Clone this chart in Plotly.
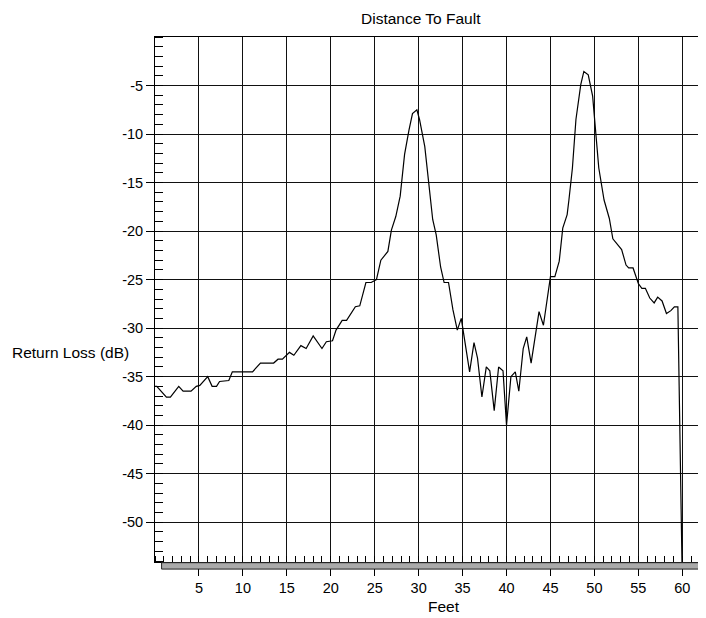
import plotly.graph_objects as go

# Distance (feet) and return loss (dB)
feet = [0.0, 0.2, 1.3, 1.75, 2.7, 3.2, 4.1, 4.7, 5.1, 6.0, 6.5, 7.0, 7.35, 8.4, 8.8,
        11.1, 12.0, 13.5, 14.0, 14.5, 15.3, 15.8, 16.6, 17.2, 18.0, 19.0, 19.5, 20.2,
        20.6, 21.3, 21.8, 22.2, 22.8, 23.3, 24.0, 24.6, 25.2, 25.7, 26.5, 26.9, 27.4,
        27.9, 28.4, 28.9, 29.3, 29.8, 30.1, 30.7, 31.1, 31.6, 32.0, 32.5, 32.9, 33.4,
        33.9, 34.4, 34.85, 35.8, 36.3, 36.7, 37.2, 37.7, 38.1, 38.6, 39.1, 39.6, 40.0,
        40.5, 41.0, 41.4, 41.9, 42.3, 42.8, 43.7, 44.2, 45.0, 45.5, 46.0, 46.4, 46.9,
        47.1, 47.5, 47.9, 48.45, 48.8, 49.3, 49.8, 50.2, 50.5, 51.1, 51.7, 52.1, 52.6,
        53.1, 53.6, 53.9, 54.4, 55.0, 55.4, 55.8, 56.3, 56.8, 57.2, 57.7, 58.2, 58.7,
        59.1, 59.5, 60.0]
return_loss = [-36.0, -36.0, -37.1, -37.1, -36.0, -36.5, -36.5, -36.0, -35.9, -35.0,
               -36.0, -36.0, -35.5, -35.4, -34.5, -34.5, -33.6, -33.6, -33.2, -33.2,
               -32.5, -32.8, -31.8, -32.1, -30.8, -32.1, -31.4, -31.3, -30.2, -29.2,
               -29.2, -28.6, -27.8, -27.7, -25.3, -25.3, -25.0, -23.0, -22.1, -19.9,
               -18.5, -16.4, -12.1, -9.6, -7.9, -7.5, -8.5, -11.3, -14.7, -18.8, -20.4,
               -23.7, -25.3, -25.3, -28.1, -30.2, -29.0, -34.5, -31.5, -33.1, -37.1,
               -34.0, -34.4, -38.5, -34.0, -34.4, -40.0, -35.0, -34.5, -36.5, -32.1,
               -30.9, -33.6, -28.3, -29.7, -24.7, -24.7, -23.1, -19.7, -18.3, -16.8,
               -13.5, -8.5, -4.9, -3.55, -3.9, -6.1, -9.9, -13.5, -16.8, -18.7, -20.8,
               -21.3, -21.9, -23.5, -23.8, -23.8, -25.4, -25.9, -25.9, -26.9, -27.4,
               -26.8, -27.2, -28.5, -28.2, -27.8, -27.8, -56.0]

x_ticks = [5, 10, 15, 20, 25, 30, 35, 40, 45, 50, 55, 60]
y_ticks = [-5, -10, -15, -20, -25, -30, -35, -40, -45, -50]

FONT = "Liberation Sans, Arial, sans-serif"

fig = go.Figure()
fig.add_trace(go.Scatter(x=feet, y=return_loss, mode="lines",
                         line=dict(color="black", width=1.2), showlegend=False))

# page body has an 8px margin, so the figure is sized/offset to compensate
fig.update_layout(
    width=698, height=610,
    margin=dict(l=147, r=0, t=29, b=56),
    paper_bgcolor="white", plot_bgcolor="white",
    font=dict(family=FONT, size=14.5, color="black"),
    showlegend=False,
)

fig.update_xaxes(
    range=[0, 62.7], tickvals=x_ticks, ticktext=[str(v) for v in x_ticks],
    showgrid=True, gridcolor="#111", gridwidth=1,
    showline=True, linecolor="black", linewidth=1, mirror=True,
    ticks="outside", ticklen=13, tickcolor="black",
    minor=dict(dtick=1, tick0=0, ticks="inside", ticklen=6, tickcolor="black", showgrid=False),
    zeroline=False,
)
fig.update_yaxes(
    range=[-54.1, 0], tickvals=y_ticks, ticktext=[str(v) for v in y_ticks],
    showgrid=True, gridcolor="#111", gridwidth=1,
    showline=True, linecolor="black", linewidth=1, mirror=False,
    ticks="outside", ticklen=8, tickcolor="black",
    minor=dict(dtick=1, tick0=0, ticks="inside", ticklen=8, tickcolor="black", showgrid=False),
    zeroline=False,
)

# gray scroll-bar strip under the x axis
fig.add_shape(type="rect", xref="x", yref="paper", x0=0.75, x1=62.7,
              y0=-0.0135, y1=-0.0013, fillcolor="#aaaaaa",
              line=dict(color="#222", width=1), layer="above")

fig.add_annotation(text="Distance To Fault", xref="paper", yref="paper",
                   x=0.483, y=1.055, showarrow=False, xanchor="center", yanchor="top",
                   font=dict(family=FONT, size=15.5))
fig.add_annotation(text="Feet", xref="paper", yref="paper",
                   x=0.5245, y=-0.0857, showarrow=False, xanchor="center", yanchor="middle",
                   font=dict(family=FONT, size=15.5))
fig.add_annotation(text="Return Loss (dB)", xref="paper", yref="paper",
                   x=-0.263, y=0.4, showarrow=False, xanchor="left", yanchor="middle",
                   font=dict(family=FONT, size=15.5))

fig.write_html("out.html")
